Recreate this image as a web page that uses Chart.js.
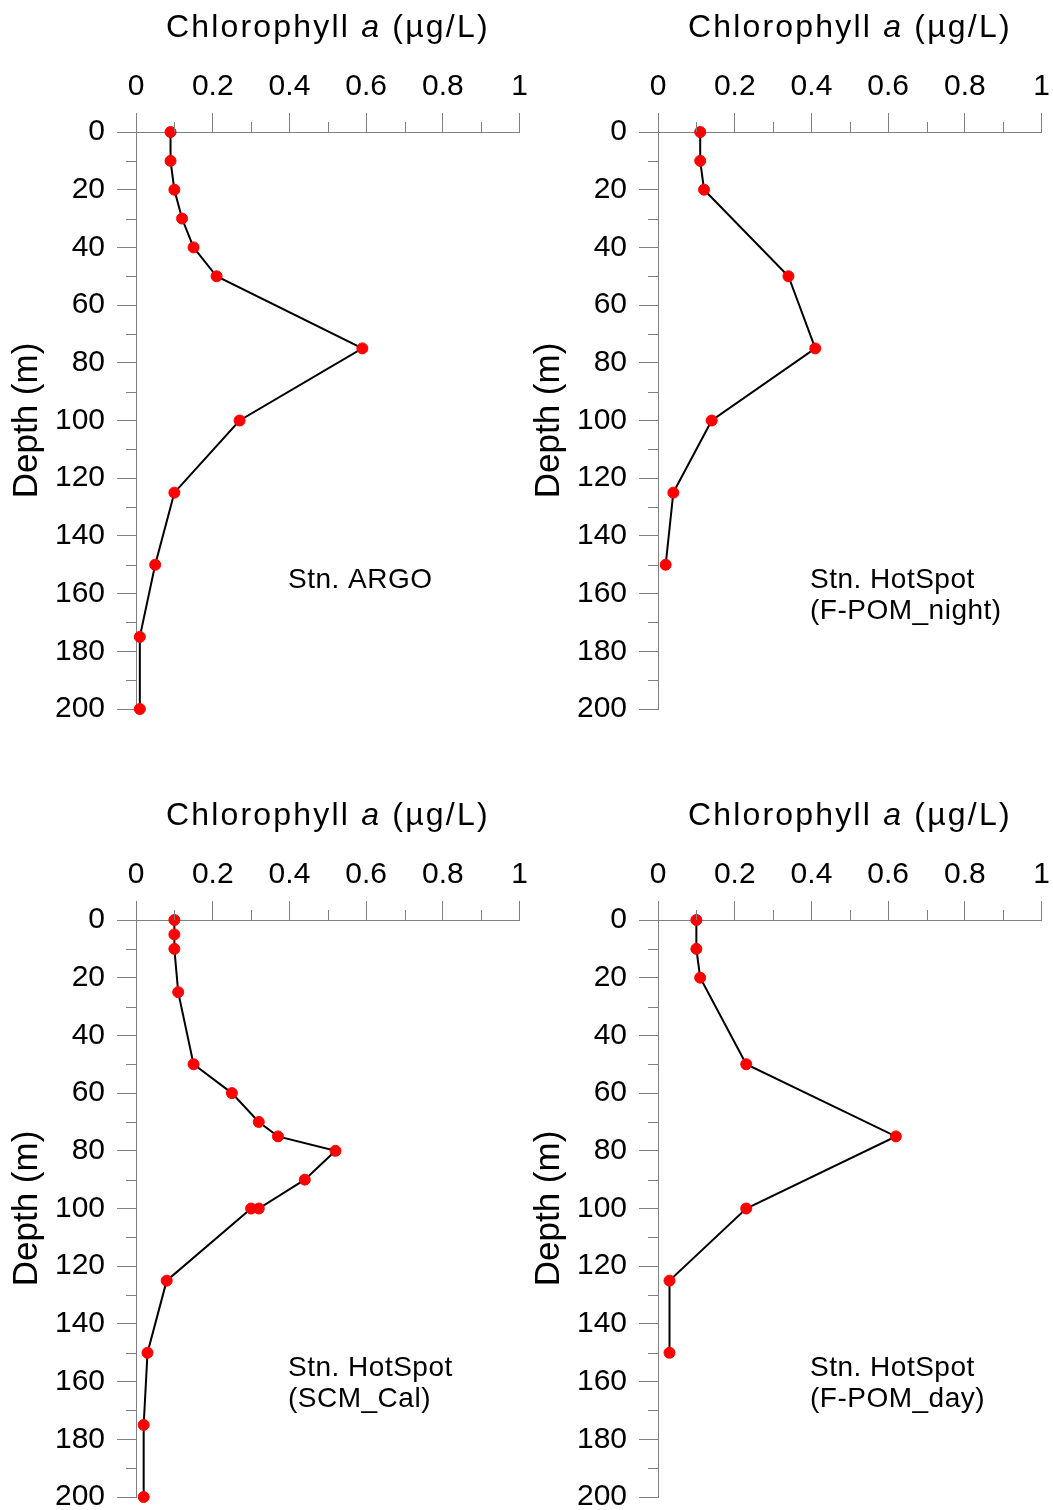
<!DOCTYPE html>
<html lang="en">
<head>
<meta charset="UTF-8">
<title>Chlorophyll a depth profiles</title>
<style>
  html, body { margin: 0; padding: 0; background: #fff; overflow: hidden; }
  .panel { position: absolute; }
</style>
</head>
<body>
<canvas id="argo" class="panel" width="536" height="739" style="left:0;top:0"></canvas>
<canvas id="night" class="panel" width="536" height="739" style="left:522px;top:0"></canvas>
<canvas id="scm" class="panel" width="536" height="739" style="left:0;top:788px"></canvas>
<canvas id="day" class="panel" width="536" height="739" style="left:522px;top:788px"></canvas>

<script src="https://cdn.jsdelivr.net/npm/chart.js@4.4.0/dist/chart.umd.min.js"></script>
<script>
// depth (m) and chlorophyll a (ug/L)
const argoDepth = [0, 10, 20, 30, 40, 50, 75, 100, 125, 150, 175, 200];
const argoChl   = [0.09, 0.09, 0.10, 0.12, 0.15, 0.21, 0.59, 0.27, 0.10, 0.05, 0.01, 0.01];

const nightDepth = [0, 10, 20, 50, 75, 100, 125, 150];
const nightChl   = [0.11, 0.11, 0.12, 0.34, 0.41, 0.14, 0.04, 0.02];

const scmDepth = [0, 5, 10, 25, 50, 60, 70, 75, 80, 90, 100, 100, 125, 150, 175, 200];
const scmChl   = [0.10, 0.10, 0.10, 0.11, 0.15, 0.25, 0.32, 0.37, 0.52, 0.44, 0.32, 0.30, 0.08, 0.03, 0.02, 0.02];

const dayDepth = [0, 10, 20, 50, 75, 100, 125, 150];
const dayChl   = [0.10, 0.10, 0.11, 0.23, 0.62, 0.23, 0.03, 0.03];

const xMinorTicks = [0.1, 0.3, 0.5, 0.7, 0.9];
const yMinorTicks = [10, 30, 50, 70, 90, 110, 130, 150, 170, 190];

const FONT = "'Liberation Sans', Arial, sans-serif";
const GRAY = '#808080';

// minor ticks, x title with italic "a", station label
const panelText = {
  id: 'panelText',
  afterDraw(chart, args, opts) {
    const { ctx, chartArea, scales: { x, y } } = chart;
    ctx.save();

    // minor ticks
    ctx.strokeStyle = GRAY;
    ctx.lineWidth = 1;
    ctx.beginPath();
    xMinorTicks.forEach(v => {
      const px = Math.round(x.getPixelForValue(v)) + 0.5;
      ctx.moveTo(px, chartArea.top);
      ctx.lineTo(px, chartArea.top - 10);
    });
    yMinorTicks.forEach(v => {
      const py = Math.round(y.getPixelForValue(v)) + 0.5;
      ctx.moveTo(chartArea.left, py);
      ctx.lineTo(chartArea.left - 10, py);
    });
    ctx.stroke();

    // x axis title
    ctx.fillStyle = '#000';
    ctx.textBaseline = 'alphabetic';
    ctx.textAlign = 'left';
    ctx.letterSpacing = '2.2px';
    const parts = [['Chlorophyll ', ''], ['a', 'italic '], [' (\u00b5g/L)', '']];
    let total = 0;
    parts.forEach(p => { ctx.font = p[1] + '32px ' + FONT; total += ctx.measureText(p[0]).width; });
    let tx = (x.left + x.right) / 2 - total / 2;
    const ty = chartArea.top - 95;
    parts.forEach(p => {
      ctx.font = p[1] + '32px ' + FONT;
      ctx.fillText(p[0], tx, ty);
      tx += ctx.measureText(p[0]).width;
    });

    // station label
    ctx.letterSpacing = '0.5px';
    ctx.font = '28px ' + FONT;
    opts.lines.forEach((line, i) => {
      ctx.fillText(line, chartArea.left + 152, chartArea.top + 456 + i * 31);
    });
    ctx.restore();
  }
};

function makePanel(id, depth, chl, lines) {
  const points = depth.map((d, i) => ({ x: chl[i], y: d }));
  return new Chart(document.getElementById(id), {
    type: 'scatter',
    data: {
      datasets: [{
        data: points,
        showLine: true,
        borderColor: '#000',
        borderWidth: 2,
        pointRadius: 5.5,
        pointBackgroundColor: '#ff0000',
        pointBorderColor: '#ff0000',
        pointBorderWidth: 1,
        clip: false
      }]
    },
    options: {
      responsive: false,
      animation: false,
      layout: { padding: { left: 0, top: 0, right: 10, bottom: 22 } },
      plugins: {
        legend: { display: false },
        tooltip: { enabled: false },
        panelText: { lines: lines }
      },
      scales: {
        x: {
          type: 'linear',
          position: 'top',
          min: 0,
          max: 1,
          ticks: {
            stepSize: 0.2,
            color: '#000',
            font: { family: FONT, size: 30 },
            padding: 8,
            maxRotation: 0,
            callback: v => String(+v.toFixed(1))
          },
          grid: { drawOnChartArea: false, drawTicks: true, tickLength: 19, color: GRAY, tickColor: GRAY },
          border: { display: true, color: GRAY, width: 1 },
          afterFit: s => { s.height = 132; }
        },
        y: {
          type: 'linear',
          position: 'left',
          reverse: true,
          min: 0,
          max: 200,
          ticks: {
            stepSize: 20,
            color: '#000',
            font: { family: FONT, size: 30 },
            padding: 12
          },
          grid: { drawOnChartArea: false, drawTicks: true, tickLength: 19, color: GRAY, tickColor: GRAY },
          border: { display: true, color: GRAY, width: 1 },
          title: {
            display: true,
            text: 'Depth (m)',
            color: '#000',
            font: { family: FONT, size: 35 },
            padding: { top: 6, bottom: 0 }
          },
          afterFit: s => { s.width = 136; }
        }
      }
    },
    plugins: [panelText]
  });
}

makePanel('argo', argoDepth, argoChl, ['Stn. ARGO']);
makePanel('night', nightDepth, nightChl, ['Stn. HotSpot', '(F-POM_night)']);
makePanel('scm', scmDepth, scmChl, ['Stn. HotSpot', '(SCM_Cal)']);
makePanel('day', dayDepth, dayChl, ['Stn. HotSpot', '(F-POM_day)']);
</script>
</body>
</html>
